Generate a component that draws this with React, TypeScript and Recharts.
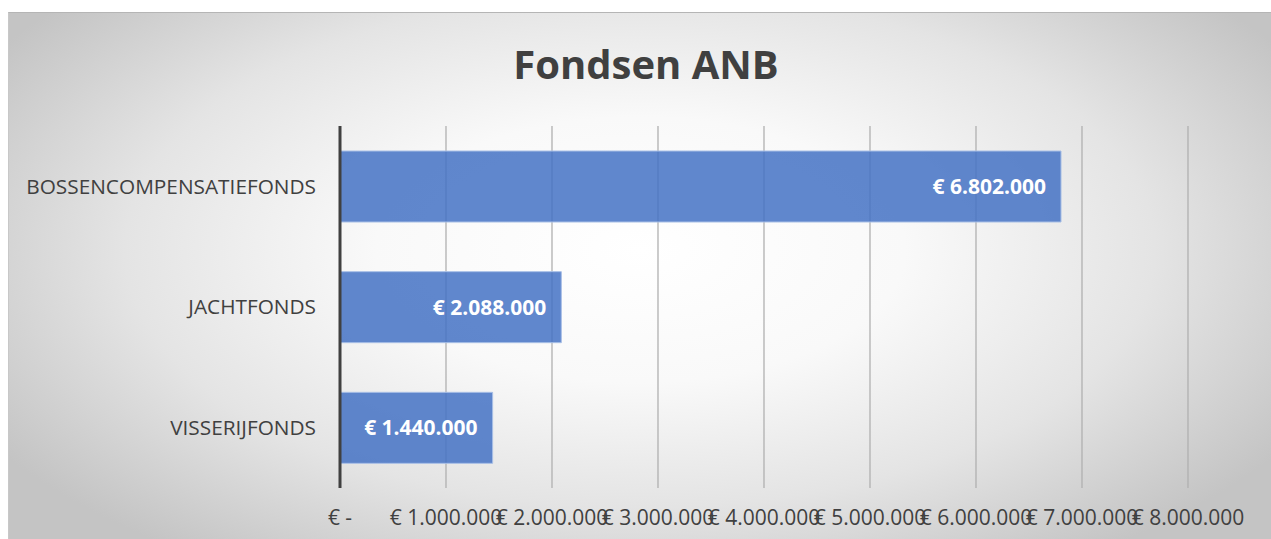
import { Bar, BarChart, CartesianGrid, LabelList, XAxis, YAxis } from 'recharts';

const FONDS = ['BOSSENCOMPENSATIEFONDS', 'JACHTFONDS', 'VISSERIJFONDS'];
const BEDRAGEN = [6802000, 2088000, 1440000];
const X_TICKS = [0, 1000000, 2000000, 3000000, 4000000, 5000000, 6000000, 7000000, 8000000];

const FONT = '"Open Sans", "Noto Sans", sans-serif';

const euro = (v: number) =>
  v === 0 ? '€ -' : '€ ' + String(v).replace(/\B(?=(\d{3})+(?!\d))/g, '.');

const rows = FONDS.map((name, i) => ({ name, value: BEDRAGEN[i] }));

export default function App() {
  return (
    <div style={{ position: 'relative', width: 1271, height: 539, overflow: 'hidden', fontFamily: FONT }}>
      <style>{`body { margin: 0; overflow: hidden; }`}</style>
      <div
        style={{
          position: 'absolute',
          left: 8,
          top: 12,
          width: 1263,
          height: 527,
          boxSizing: 'border-box',
          borderTop: '1px solid #b5b5b5',
          borderLeft: '1px solid #c8c8c8',
          background:
            'radial-gradient(ellipse 60% 72% at 50% 45%, #ffffff 0%, #f9f9f9 35%, #e4e4e4 68%, #c4c4c4 100%)',
        }}
      >
        <div
          style={{
            position: 'absolute',
            top: 23,
            left: 6,
            width: '100%',
            textAlign: 'center',
            fontSize: 40,
            fontWeight: 700,
            color: '#404040',
          }}
        >
          Fondsen ANB
        </div>
        <BarChart
          width={1263}
          height={527}
          data={rows}
          layout="vertical"
          margin={{ top: 113, right: 84, bottom: 22, left: 0 }}
        >
          <CartesianGrid horizontal={false} stroke="#b0b0b0" strokeWidth={1.3} />
          <XAxis
            type="number"
            domain={[0, 8000000]}
            ticks={X_TICKS}
            tickFormatter={euro}
            axisLine={false}
            tickLine={false}
            tickSize={0}
            tickMargin={22}
            height={30}
            interval={0}
            tick={{ fontSize: 21, fill: '#404040', fontFamily: FONT }}
          />
          <YAxis
            type="category"
            dataKey="name"
            width={331}
            axisLine={{ stroke: '#404040', strokeWidth: 3 }}
            tickLine={false}
            tickSize={0}
            tickMargin={24}
            tick={{ fontSize: 20.8, fill: '#404040', fontFamily: FONT }}
          />
          <Bar
            dataKey="value"
            barSize={71}
            fill="#4472C4"
            fillOpacity={0.85}
            stroke="#a8bfe6"
            strokeWidth={1}
            isAnimationActive={false}
          >
            <LabelList
              dataKey="value"
              position="insideRight"
              offset={15}
              formatter={(v: any) => euro(Number(v))}
              style={{ fill: '#ffffff', fontSize: 21, fontWeight: 700, fontFamily: FONT }}
            />
          </Bar>
        </BarChart>
      </div>
    </div>
  );
}
